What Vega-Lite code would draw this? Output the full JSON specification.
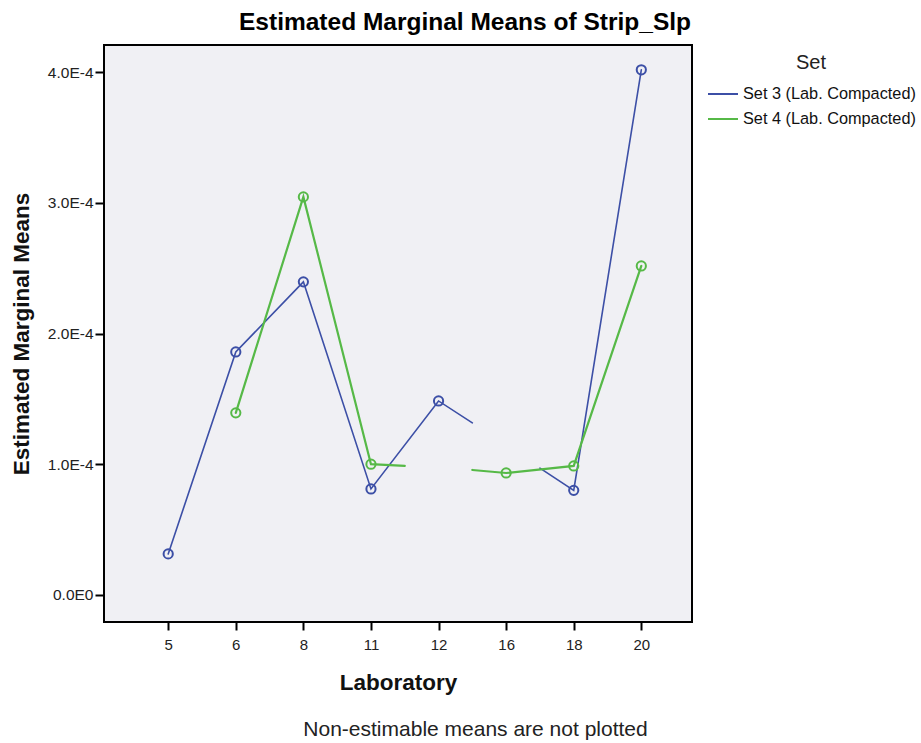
{
  "$schema": "https://vega.github.io/schema/vega-lite/v6.json",
  "autosize": "none",
  "padding": {"top": 45, "left": 104, "right": 229, "bottom": 121},
  "width": 588,
  "height": 577,
  "background": "#ffffff",
  "config": {
    "font": "Liberation Sans",
    "view": {"fill": "#f0f0f4", "stroke": "#000000", "strokeWidth": 2}
  },
  "title": {
    "text": "Estimated Marginal Means of Strip_Slp",
    "fontSize": 24.5,
    "fontWeight": "bold",
    "color": "#000000",
    "anchor": "middle",
    "dx": 67,
    "offset": 10
  },
  "data": {
    "values": [
      {"set": "Set 3 (Lab. Compacted)", "seg": "s3a", "idx": 0, "lab": 5, "mean": 0.0000314, "pt": true},
      {"set": "Set 3 (Lab. Compacted)", "seg": "s3a", "idx": 1, "lab": 6, "mean": 0.0001859, "pt": true},
      {"set": "Set 3 (Lab. Compacted)", "seg": "s3a", "idx": 2, "lab": 8, "mean": 0.0002395, "pt": true},
      {"set": "Set 3 (Lab. Compacted)", "seg": "s3a", "idx": 3, "lab": 11, "mean": 0.0000811, "pt": true},
      {"set": "Set 3 (Lab. Compacted)", "seg": "s3a", "idx": 4, "lab": 12, "mean": 0.0001484, "pt": true},
      {"set": "Set 3 (Lab. Compacted)", "seg": "s3a", "idx": 4.5, "lab": null, "mean": 0.0001316, "pt": false},
      {"set": "Set 3 (Lab. Compacted)", "seg": "s3b", "idx": 5.5, "lab": null, "mean": 0.000097, "pt": false},
      {"set": "Set 3 (Lab. Compacted)", "seg": "s3b", "idx": 6, "lab": 18, "mean": 0.00008, "pt": true},
      {"set": "Set 3 (Lab. Compacted)", "seg": "s3b", "idx": 7, "lab": 20, "mean": 0.0004017, "pt": true},
      {"set": "Set 4 (Lab. Compacted)", "seg": "s4a", "idx": 1, "lab": 6, "mean": 0.0001393, "pt": true},
      {"set": "Set 4 (Lab. Compacted)", "seg": "s4a", "idx": 2, "lab": 8, "mean": 0.0003045, "pt": true},
      {"set": "Set 4 (Lab. Compacted)", "seg": "s4a", "idx": 3, "lab": 11, "mean": 0.0001, "pt": true},
      {"set": "Set 4 (Lab. Compacted)", "seg": "s4a", "idx": 3.5, "lab": null, "mean": 0.0000987, "pt": false},
      {"set": "Set 4 (Lab. Compacted)", "seg": "s4b", "idx": 4.5, "lab": null, "mean": 0.0000956, "pt": false},
      {"set": "Set 4 (Lab. Compacted)", "seg": "s4b", "idx": 5, "lab": 16, "mean": 0.0000933, "pt": true},
      {"set": "Set 4 (Lab. Compacted)", "seg": "s4b", "idx": 6, "lab": 18, "mean": 0.0000987, "pt": true},
      {"set": "Set 4 (Lab. Compacted)", "seg": "s4b", "idx": 7, "lab": 20, "mean": 0.0002517, "pt": true}
    ]
  },
  "layer": [
    {
      "mark": {"type": "line", "strokeCap": "round"},
      "encoding": {
        "x": {
          "field": "idx", "type": "quantitative",
          "scale": {"domain": [-0.95, 7.75], "nice": false, "zero": false},
          "axis": {
            "values": [0, 1, 2, 3, 4, 5, 6, 7],
            "labelExpr": "['5','6','8','11','12','16','18','20'][datum.value]",
            "grid": false, "domain": false,
            "tickSize": 8, "tickWidth": 2, "tickColor": "#000000",
            "labelFontSize": 15, "labelColor": "#222222", "labelPadding": 7,
            "title": "Laboratory", "titleFontSize": 22.5, "titleFontWeight": "bold",
            "titleColor": "#111111", "titlePadding": 19
          }
        },
        "y": {
          "field": "mean", "type": "quantitative",
          "scale": {"domain": [-0.0000207, 0.0004207], "nice": false, "zero": false},
          "axis": {
            "values": [0, 0.0001, 0.0002, 0.0003, 0.0004],
            "labelExpr": "datum.value == 0 ? '0.0E0' : format(datum.value * 10000, '.1f') + 'E-4'",
            "grid": false, "domain": false,
            "tickSize": 9, "tickWidth": 2, "tickColor": "#000000",
            "labelFontSize": 15.5, "labelColor": "#222222", "labelPadding": 2,
            "title": "Estimated Marginal Means", "titleFontSize": 22.5, "titleFontWeight": "bold",
            "titleColor": "#111111", "titlePadding": 14
          }
        },
        "color": {
          "field": "set", "type": "nominal",
          "scale": {"range": ["#3c4fa6", "#56b947"]},
          "legend": {
            "title": "Set", "orient": "right", "offset": 7,
            "titleFontSize": 20, "titleFontWeight": "normal", "titleColor": "#222222",
            "titleAnchor": "middle", "titlePadding": 5,
            "labelFontSize": 16.3, "labelColor": "#111111", "labelLimit": 400,
            "symbolType": "stroke", "symbolSize": 900, "symbolStrokeWidth": 2,
            "rowPadding": -12, "padding": 8, "labelOffset": 4
          }
        },
        "strokeWidth": {
          "field": "set", "type": "nominal",
          "scale": {"range": [1.6, 2.2]},
          "legend": null
        },
        "detail": {"field": "seg"}
      }
    },
    {
      "transform": [{"filter": "datum.pt"}],
      "mark": {"type": "point", "shape": "circle", "filled": false, "size": 85, "strokeWidth": 2, "opacity": 1},
      "encoding": {
        "x": {
          "field": "idx", "type": "quantitative",
          "axis": {
            "orient": "bottom", "domain": false, "ticks": false, "labels": false, "grid": false,
            "title": "Non-estimable means are not plotted", "titleFontSize": 21,
            "titleFontWeight": "normal", "titleColor": "#222222", "titleY": 96, "titleX": 371
          }
        },
        "y": {"field": "mean", "type": "quantitative"},
        "color": {"field": "set", "type": "nominal"}
      }
    }
  ],
  "resolve": {"axis": {"x": "independent"}}
}
